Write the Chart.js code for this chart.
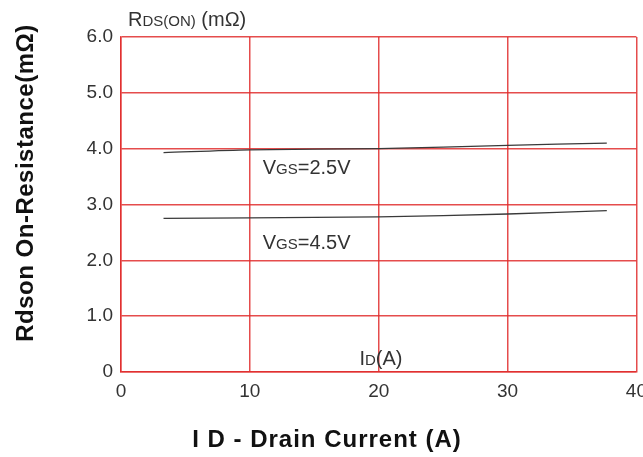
<!DOCTYPE html>
<html>
<head>
<meta charset="utf-8">
<script src="https://cdn.jsdelivr.net/npm/chart.js@4.4.0/dist/chart.umd.min.js"></script>
<style>
  html, body { margin: 0; padding: 0; background: #fff; overflow: hidden; }
  #wrap { width: 643px; height: 457px; overflow: hidden; }
</style>
</head>
<body>
<div id="wrap"><canvas id="myChart" width="655" height="457"></canvas></div>
<script>
// drain current (A) and Rds(on) (mOhm)
const currentA = [3.3, 10, 20, 30, 37.7];
const rdsVgs25 = [3.93, 3.98, 4.0, 4.06, 4.10];
const rdsVgs45 = [2.75, 2.76, 2.78, 2.83, 2.89];
const xTicks = [0, 10, 20, 30, 40];
const yTicks = [0, 1, 2, 3, 4, 5, 6];

const red = "rgba(225,45,45,0.85)";
const txt = "#333";
const FONT = "'Liberation Sans', Arial, sans-serif";

function toPoints(ys) {
  const pts = [];
  for (let i = 0; i < currentA.length; i++) {
    pts.push({ x: currentA[i], y: ys[i] });
  }
  return pts;
}

// draws "R" + smaller "DS(ON)" style text, left aligned at x
function mixedText(ctx, parts, x, y) {
  for (let i = 0; i < parts.length; i++) {
    ctx.font = parts[i][1] + "px " + FONT;
    ctx.fillText(parts[i][0], x, y);
    x += ctx.measureText(parts[i][0]).width;
  }
}

const labelsPlugin = {
  id: "labels",
  afterDraw(chart) {
    const ctx = chart.ctx;
    const xs = chart.scales.x;
    const ys = chart.scales.y;
    ctx.save();
    ctx.fillStyle = txt;
    ctx.textBaseline = "alphabetic";
    ctx.textAlign = "left";
    mixedText(ctx, [["R", 20], ["DS(ON)", 15], [" (m\u03A9)", 20]], 128, 26);
    mixedText(ctx, [["V", 20], ["GS", 15], ["=2.5V", 20]], xs.getPixelForValue(11.0), ys.getPixelForValue(3.55));
    mixedText(ctx, [["V", 20], ["GS", 15], ["=4.5V", 20]], xs.getPixelForValue(11.0), ys.getPixelForValue(2.2));
    mixedText(ctx, [["I", 20], ["D", 15], ["(A)", 20]], xs.getPixelForValue(18.5), ys.getPixelForValue(0.12));

    // axis titles
    ctx.fillStyle = "#111";
    ctx.font = "bold 24px " + FONT;
    ctx.textAlign = "center";
    ctx.letterSpacing = "1px";
    ctx.fillText("I D - Drain Current (A)", 327, 447);
    ctx.letterSpacing = "0.5px";
    ctx.translate(33, 183);
    ctx.rotate(-Math.PI / 2);
    ctx.fillText("Rdson On-Resistance(m\u03A9)", 0, 0);
    ctx.restore();
  },
};

function loadChart() {
  const ctx = document.getElementById("myChart");
  new Chart(ctx, {
    type: "scatter",
    data: {
      datasets: [
        {
          label: "VGS=2.5V",
          data: toPoints(rdsVgs25),
          showLine: true,
          borderColor: "#3a3a3a",
          borderWidth: 1.3,
          pointRadius: 0,
          tension: 0.3,
        },
        {
          label: "VGS=4.5V",
          data: toPoints(rdsVgs45),
          showLine: true,
          borderColor: "#3a3a3a",
          borderWidth: 1.3,
          pointRadius: 0,
          tension: 0.3,
        },
      ],
    },
    options: {
      responsive: false,
      animation: false,
      devicePixelRatio: 1,
      layout: { padding: { left: 0, right: 18, top: 37, bottom: 0 } },
      plugins: { legend: { display: false }, tooltip: { enabled: false } },
      scales: {
        x: {
          type: "linear",
          min: 0,
          max: 40,
          afterBuildTicks: (s) => { s.ticks = xTicks.map((v) => ({ value: v })); },
          afterFit: (s) => { s.height = 85; },
          grid: { color: red, lineWidth: 1.5, drawTicks: false },
          border: { color: red, width: 1.5 },
          ticks: { color: txt, padding: 8, font: { family: FONT, size: 19 } },
        },
        y: {
          type: "linear",
          min: 0,
          max: 6,
          afterBuildTicks: (s) => { s.ticks = yTicks.map((v) => ({ value: v })); },
          afterFit: (s) => { s.width = 121; },
          grid: { color: red, lineWidth: 1.5, drawTicks: false },
          border: { color: red, width: 1.5 },
          ticks: {
            color: txt,
            padding: 8,
            font: { family: FONT, size: 19 },
            callback: (v) => (v === 0 ? "0" : v.toFixed(1)),
          },
        },
      },
    },
    plugins: [labelsPlugin],
  });
}

loadChart();
</script>
</body>
</html>
